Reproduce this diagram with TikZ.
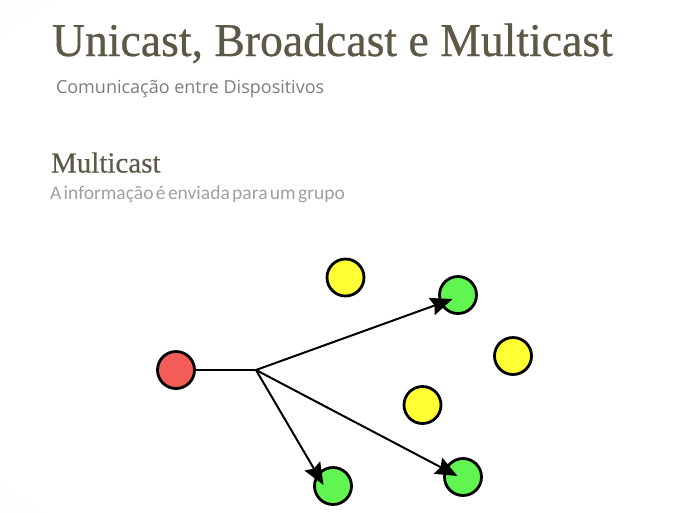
\documentclass[tikz,border=0pt]{standalone}
\usepackage{fontspec}
\setmainfont{Liberation Serif}
\newfontfamily\titlefont[FakeStretch=0.972, FakeBold=0.6]{Liberation Serif}
\newfontfamily\headfont[FakeBold=0.4]{Liberation Serif}
\newfontfamily\bodyfont{Carlito}
\newfontfamily\subfont{Open Sans}
\usetikzlibrary{calc,arrows.meta}
\definecolor{titlecol}{RGB}{94,88,70}
\definecolor{subcol}{RGB}{125,125,125}
\definecolor{textcol}{RGB}{160,160,160}
\definecolor{redfill}{RGB}{243,92,87}
\definecolor{greenfill}{RGB}{96,245,80}
\definecolor{yellowfill}{RGB}{255,255,51}
\pgfdeclareradialshading{slidebg}{\pgfpoint{0bp}{0bp}}{color(0bp)=(white); color(28bp)=(white); color(71bp)=(black!14)}
\tikzset{
  dev/.style={circle, draw=black, line width=2.8pt, minimum size=37pt, inner sep=0pt},
  sender/.style={dev, fill=redfill},
  member/.style={dev, fill=greenfill},
  other/.style={dev, fill=yellowfill},
  conn/.style={draw=black, line width=2pt},
  arr/.style={conn, -{Stealth[length=22pt, width=18pt, inset=3pt]}},
  txt/.style={anchor=base west, inner sep=0pt, outer sep=0pt}
}
\begin{document}
\begin{tikzpicture}[x=1pt, y=-1pt]
\useasboundingbox (0,0) rectangle (700,512);
\shade[shading=slidebg] (-60,-40) rectangle (880,560);
% texts
\node[txt, text=titlecol] (title) at (52,56) {\titlefont\fontsize{47}{50}\selectfont Unicast, Broadcast e Multicast};
\node[txt, text=subcol] (subtitle) at (56,93) {\subfont\fontsize{18}{20}\selectfont Comunicação entre Dispositivos};
\node[txt, text=titlecol] (heading) at (51,172.5) {\headfont\fontsize{29}{31}\selectfont Multicast};
\node[txt, text=textcol] (desc) at (50,199) {\bodyfont\fontsize{19.5}{21}\selectfont\spaceskip=2.4pt A informação é enviada para um grupo};
% devices
\node[sender] (r) at (176,370) {};
\node[other] (y1) at (345.5,277.5) {};
\node[member] (g1) at (458,295) {};
\node[other] (y2) at (513,356) {};
\node[other] (y3) at (422.5,405) {};
\node[member] (g2) at (333,486) {};
\node[member] (g3) at (463,477) {};
\coordinate (b) at (256,370);
\coordinate (t1) at ($(g1.center)+(-5.5,4)$);
\coordinate (t2) at ($(g2.center)+(-9.5,-1)$);
\coordinate (t3) at ($(g3.center)+(-5.5,-1)$);
% connectors
\draw[conn] (r) -- (b);
\draw[arr] (b) -- (t1);
\draw[arr] (b) -- (t2);
\draw[arr] (b) -- (t3);
\end{tikzpicture}
\end{document}
